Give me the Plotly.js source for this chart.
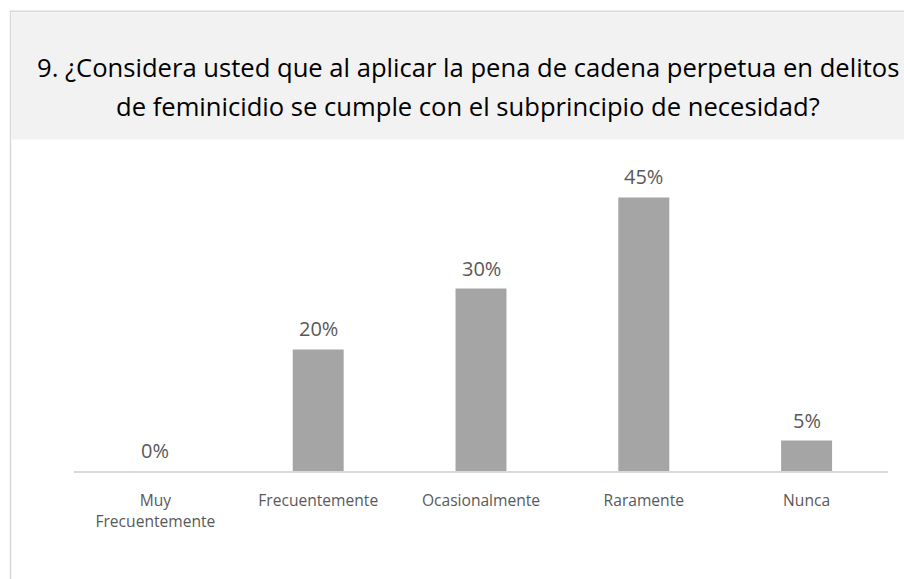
<!DOCTYPE html>
<html>
<head>
<meta charset="utf-8">
<script src="https://cdn.plot.ly/plotly-3.0.1.min.js"></script>
<style>html,body{margin:0;padding:0;background:#fff;}#chart{width:904px;height:579px;}</style>
</head>
<body>
<div id="chart"></div>
<script>
var categories = ["Muy<br>Frecuentemente", "Frecuentemente", "Ocasionalmente", "Raramente", "Nunca"];
var values = [0, 20, 30, 45, 5];
var valueLabels = ["0%", "20%", "30%", "45%", "5%"];
var titleLine1 = "9. ¿Considera usted que al aplicar la pena de cadena perpetua en delitos";
var titleLine2 = "de feminicidio se cumple con el subprincipio de necesidad?";

var W = 904, H = 579;
var mL = 74, mR = 16, mT = 166.5, mB = 108;
var pw = W - mL - mR, ph = H - mT - mB;
function px(x){ return (x - mL) / pw; }
function py(y){ return (H - mB - y) / ph; }
var FONT = '"Open Sans", sans-serif';

var trace = {
  type: 'bar',
  x: categories,
  y: values,
  marker: {color: '#a5a5a5'},
  width: 0.313,
  hoverinfo: 'none'
};

var labelAnns = categories.map(function(c, i){
  return {xref: 'x', yref: 'y', x: c, y: values[i], text: valueLabels[i],
    showarrow: false, xanchor: 'center', yanchor: 'bottom', yshift: 5,
    font: {family: FONT, size: 20, color: '#595959'}};
});

var layout = {
  width: W, height: H,
  margin: {l: mL, r: mR, t: mT, b: mB, pad: 0},
  paper_bgcolor: '#ffffff',
  plot_bgcolor: 'rgba(0,0,0,0)',
  showlegend: false,
  font: {family: FONT, color: '#595959'},
  xaxis: {
    showgrid: false, zeroline: false,
    showline: true, linecolor: '#d9d9d9', linewidth: 1.5,
    ticks: '', ticklabelstandoff: 15,
    tickfont: {family: FONT, size: 15.6, color: '#595959'},
    fixedrange: true
  },
  yaxis: {
    range: [0, 50], visible: false, showgrid: false, zeroline: false, fixedrange: true
  },
  shapes: [
    {type: 'rect', xref: 'paper', yref: 'paper', layer: 'below',
     x0: px(10.5), x1: px(940), y0: py(600), y1: py(10.5),
     line: {color: '#d9d9d9', width: 1.5}, fillcolor: '#ffffff'},
    {type: 'rect', xref: 'paper', yref: 'paper', layer: 'below',
     x0: px(11.5), x1: px(940), y0: py(139), y1: py(11.5),
     line: {width: 0}, fillcolor: '#f2f2f2'}
  ],
  annotations: [
    {xref: 'paper', yref: 'paper', x: px(468), y: py(67), text: titleLine1,
     showarrow: false, xanchor: 'center', yanchor: 'middle',
     font: {family: FONT, size: 25.6, color: '#000000'}},
    {xref: 'paper', yref: 'paper', x: px(468), y: py(106), text: titleLine2,
     showarrow: false, xanchor: 'center', yanchor: 'middle',
     font: {family: FONT, size: 25.6, color: '#000000'}}
  ].concat(labelAnns)
};

Plotly.newPlot('chart', [trace], layout, {displayModeBar: false, staticPlot: true});
</script>
</body>
</html>
